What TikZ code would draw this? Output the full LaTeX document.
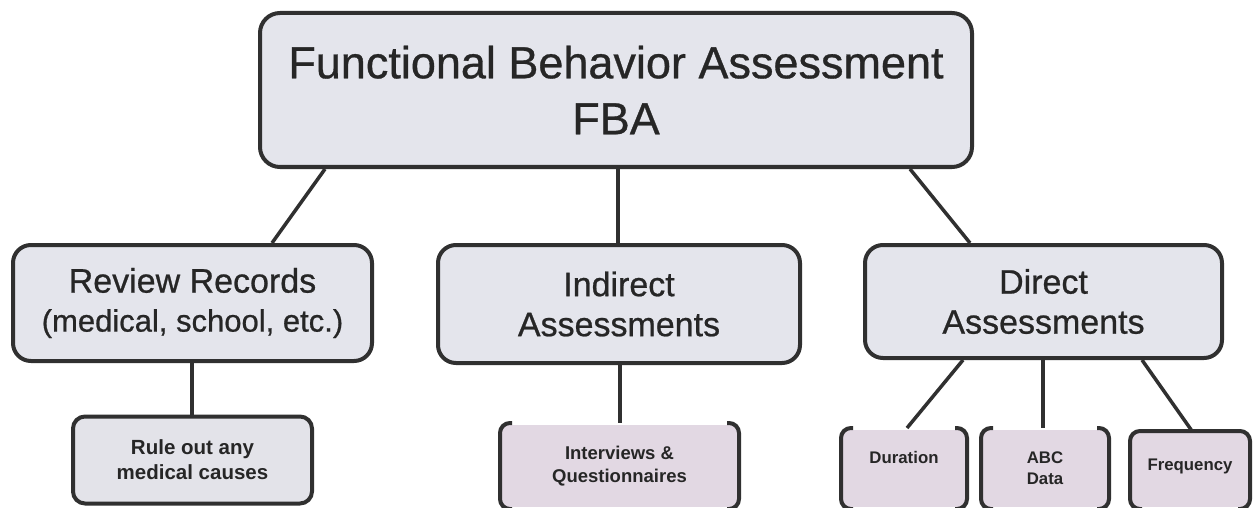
\documentclass[tikz,border=0pt]{standalone}
\usepackage{fontspec}
\setmainfont{Liberation Sans}
% slightly heavier regular face for the headings
\newfontfamily\headfont[FakeBold=0.7]{Liberation Sans}
\usetikzlibrary{calc}
\definecolor{edge}{HTML}{303030}
\definecolor{ink}{HTML}{262626}
\definecolor{boxfill}{HTML}{E4E5EC}
\definecolor{leaffill}{HTML}{E3E3E9}
\definecolor{pinkfill}{HTML}{E2D8E3}
\tikzset{
  x=1pt, y=-1pt,
  base/.style={inner sep=0pt, align=center, text=ink, line width=4pt, draw=edge},
  topbox/.style={base, fill=boxfill, rounded corners=20pt,
    font=\headfont\fontsize{45}{56}\selectfont},
  midbox/.style={base, fill=boxfill, rounded corners=18pt,
    font=\headfont\fontsize{34}{40}\selectfont},
  leafbox/.style={base, fill=leaffill, rounded corners=12pt,
    font=\bfseries\fontsize{20.5}{25}\selectfont},
  pinkbox/.style={base, draw=none, fill=pinkfill},
  bracket/.style={draw=edge, line width=4pt, rounded corners=10pt},
  link/.style={draw=edge, line width=3.5pt},
}
\begin{document}
\begin{tikzpicture}
\useasboundingbox (0,0) rectangle (1253,508);
\fill[white] (0,0) rectangle (1253,508);

% main node
\node[topbox, minimum width=712pt, minimum height=154pt] (fba) at (616,90)
  {Functional Behavior Assessment\\FBA};

% second level
\node[midbox, minimum width=359pt, minimum height=116pt] (rev) at (192.5,303)
  {Review Records\\[-1pt]{\fontsize{31}{36}\selectfont(medical, school, etc.)}};
\node[midbox, minimum width=362pt, minimum height=118pt] (ind) at (619,304)
  {Indirect\\Assessments};
\node[midbox, minimum width=357pt, minimum height=113pt] (dir) at (1043.5,301.5)
  {Direct\\Assessments};

% third level
\node[leafbox, minimum width=239pt, minimum height=87pt] (rule) at (192.5,460)
  {Rule out any\\medical causes};
\node[pinkbox, minimum width=235pt, minimum height=82pt,
  font=\bfseries\fontsize{18.5}{23}\selectfont] (intv) at (619.5,466)
  {Interviews \&\\Questionnaires};
\node[pinkbox, minimum width=122pt, minimum height=77pt,
  label={[font=\bfseries\fontsize{16.8}{21}\selectfont, text=ink, yshift=11pt]center:Duration}]
  (dur) at (904,468.5) {};
\node[pinkbox, minimum width=124pt, minimum height=77pt,
  font=\bfseries\fontsize{16.8}{21}\selectfont] (abc) at (1045,468.5)
  {ABC\\Data};
\node[pinkbox, minimum width=116pt, minimum height=74pt,
  label={[font=\bfseries\fontsize{16.8}{21}\selectfont, text=ink, yshift=4pt]center:Frequency}]
  (freq) at (1190,470) {};

% side brackets of the lower boxes
\foreach \b in {intv,dur,abc}{
  \draw[bracket] ([xshift=12pt]\b.north west) -- (\b.north west)
    -- (\b.south west) -- ([xshift=12pt]\b.south west);
  \draw[bracket] ([xshift=-12pt]\b.north east) -- (\b.north east)
    -- (\b.south east) -- ([xshift=-12pt]\b.south east);
}
\draw[bracket] ([xshift=12pt]freq.south west) -- (freq.south west)
  -- (freq.north west) -- (freq.north east) -- (freq.south east)
  -- ([xshift=-12pt]freq.south east);

% connectors
\draw[link] (fba.south -| 325,0) -- (rev.north -| 272,0);
\draw[link] (fba.south -| 618,0) -- (ind.north -| 618,0);
\draw[link] (fba.south -| 910,0) -- (dir.north -| 970,0);
\draw[link] (rev.south -| 192,0) -- (rule.north -| 192,0);
\draw[link] (ind.south -| 620,0) -- (intv.north -| 620,0);
\draw[link] (dir.south -| 963,0) -- (dur.north -| 907,0);
\draw[link] (dir.south -| 1043,0) -- (abc.north -| 1043,0);
\draw[link] (dir.south -| 1142,0) -- (freq.north -| 1192,0);
\end{tikzpicture}
\end{document}
